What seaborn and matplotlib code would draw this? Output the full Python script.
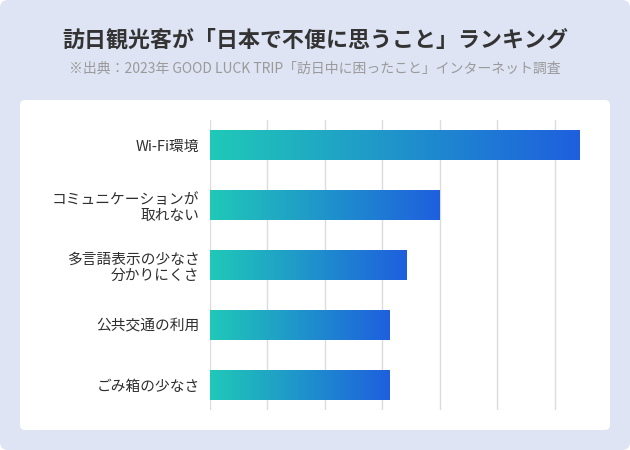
import numpy as np
import pandas as pd
import matplotlib
matplotlib.use('Agg')
import matplotlib.pyplot as plt
import seaborn as sns
from matplotlib.patches import FancyBboxPatch
from matplotlib.transforms import IdentityTransform
from matplotlib.colors import LinearSegmentedColormap

# data
categories = ['Wi-Fi環境', 'コミュニケーションが\n取れない', '多言語表示の少なさ\n分かりにくさ',
              '公共交通の利用', 'ごみ箱の少なさ']
values = [32.2, 20.0, 17.1, 15.6, 15.6]
grid_ticks = [0, 5, 10, 15, 20, 25, 30]

title = '訪日観光客が「日本で不便に思うこと」ランキング'
subtitle = '※出典：2023年 GOOD LUCK TRIP「訪日中に困ったこと」インターネット調査'

df = pd.DataFrame({'item': categories, 'value': values})

sns.set_theme(style='white')
plt.rcParams['font.family'] = ['Noto Sans CJK JP', 'DejaVu Sans']

fig = plt.figure(figsize=(6.3, 4.5), dpi=100)
fig.patch.set_facecolor('white')

# page background + white card (pixel coords)
fig.patches.append(FancyBboxPatch((0, 0), 630, 450, boxstyle='round,pad=0,rounding_size=8',
                                  fc='#dee4f3', ec='none', transform=IdentityTransform(),
                                  figure=fig, zorder=-10))
fig.patches.append(FancyBboxPatch((20, 20), 590, 330, boxstyle='round,pad=0,rounding_size=5',
                                  fc='white', ec='none', transform=IdentityTransform(),
                                  figure=fig, zorder=-9))

ax = fig.add_axes([210 / 630, 40 / 450, 370 / 630, 290 / 450])
ax.set_facecolor('none')
sns.barplot(data=df, y='item', x='value', orient='h', width=0.5, color='#1f8fd0', ax=ax)

# gradient fill for each bar
cmap = LinearSegmentedColormap.from_list('tb', ['#20c9b8', '#1e5fde'])
grad = np.linspace(0, 1, 256).reshape(1, -1)
for p in ax.patches:
    bb = p.get_bbox()
    ax.imshow(grad, cmap=cmap, aspect='auto', extent=(bb.x0, bb.x1, bb.y0, bb.y1),
              zorder=2, interpolation='bicubic')
    p.set_visible(False)

ax.set_xlim(0, max(values))
ax.set_ylim(len(categories) - 0.5 - 0.0833, -0.5 + 0.0833)
ax.set_xticks(grid_ticks)
ax.set_xticklabels([])
ax.grid(axis='x', color='#dcdcdc', linewidth=1)
ax.set_axisbelow(True)
for s in ax.spines.values():
    s.set_visible(False)
ax.set_xlabel('')
ax.set_ylabel('')
ax.tick_params(axis='y', length=0, pad=7.5, labelsize=10.6, labelcolor='#2e2e2e')
ax.tick_params(axis='x', length=0)
for lab in ax.get_yticklabels():
    lab.set_linespacing(1.2)

fig.text(0.5, 1 - 40 / 450, title, ha='center', va='center', fontsize=15.8,
         fontweight='bold', color='#333333')
fig.text(0.5, 1 - 69 / 450, subtitle, ha='center', va='center', fontsize=10,
         color='#9a9a9a')

fig.savefig('out.png', dpi=100)
